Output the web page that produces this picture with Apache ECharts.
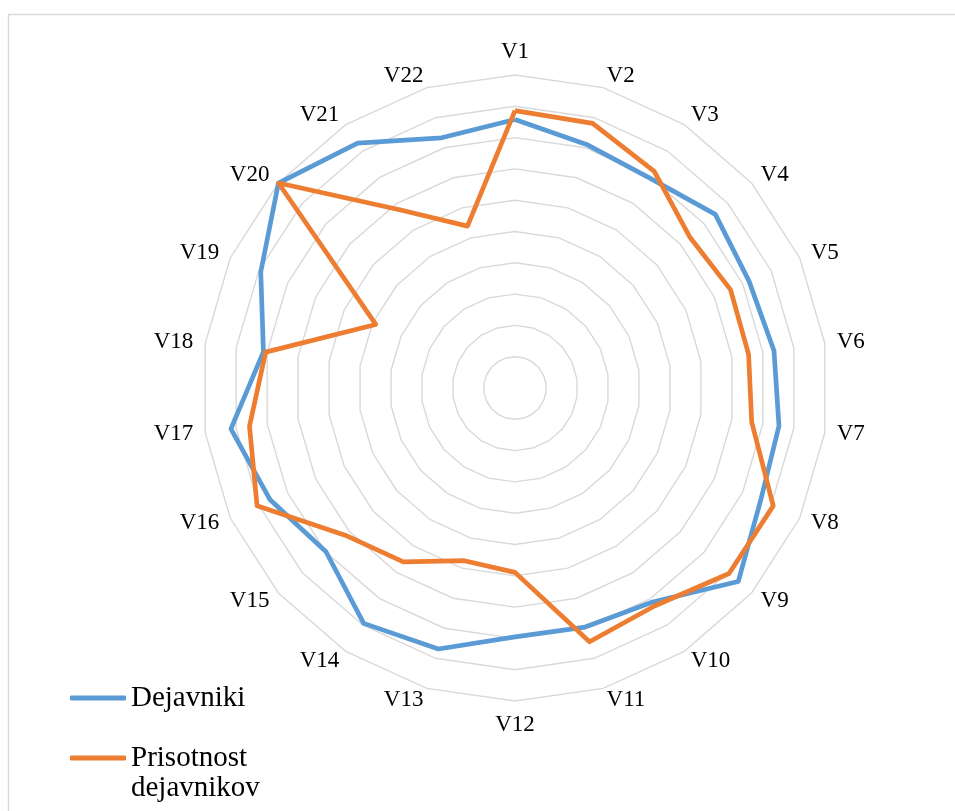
<!DOCTYPE html>
<html>
<head>
<meta charset="utf-8">
<script src="https://cdn.jsdelivr.net/npm/echarts@6/dist/echarts.min.js"></script>
<style>
html,body{margin:0;padding:0;background:#fff;}
#chart{width:955px;height:811px;}
</style>
</head>
<body>
<div id="chart"></div>
<script>
var categories = ['V1','V2','V3','V4','V5','V6','V7','V8','V9','V10','V11','V12','V13','V14','V15','V16','V17','V18','V19','V20','V21','V22'];
var dejavniki = [8.58, 8.11, 7.97, 8.47, 8.22, 8.36, 8.52, 8.63, 9.44, 8.13, 7.96, 7.95, 8.69, 8.94, 7.99, 8.60, 9.17, 8.12, 8.93, 10.0, 9.30, 8.33];
var prisotnost = [8.86, 8.81, 8.23, 7.38, 7.57, 7.54, 7.64, 9.07, 9.05, 8.27, 8.45, 5.89, 5.75, 6.60, 7.18, 9.06, 8.57, 8.05, 4.89, 10.0, 6.76, 5.39];
var seriesNames = ['Dejavniki', 'Prisotnost dejavnikov'];
var scaleMax = 10;

// ECharts radar runs counter-clockwise; reorder so categories go clockwise
var order = [0];
for (var i = categories.length - 1; i >= 1; i--) order.push(i);
function reorder(arr) { return order.map(function (k) { return arr[k]; }); }

var chart = echarts.init(document.getElementById('chart'), null, {renderer: 'canvas'});
var font = '"Liberation Serif", "Times New Roman", serif';
chart.setOption({
  animation: false,
  backgroundColor: '#ffffff',
  graphic: [{
    type: 'rect',
    shape: {x: 8.5, y: 14.5, width: 980, height: 830},
    style: {fill: 'none', stroke: '#d9d9d9', lineWidth: 1.5},
    silent: true
  }],
  legend: [{
    data: [seriesNames[0]],
    orient: 'vertical',
    left: 70, top: 683, padding: 0,
    icon: 'roundRect',
    itemWidth: 56, itemHeight: 5,
    textStyle: {fontFamily: font, fontSize: 29, color: '#000', lineHeight: 30}
  }, {
    data: [seriesNames[1]],
    orient: 'vertical',
    left: 70, top: 713, padding: 0,
    icon: 'roundRect',
    itemWidth: 56, itemHeight: 5,
    formatter: function (n) { return '\n' + n.replace(' ', '\n'); },
    textStyle: {fontFamily: font, fontSize: 29, color: '#000', lineHeight: 30}
  }],
  radar: {
    center: [515, 388],
    radius: 313,
    shape: 'polygon',
    splitNumber: 10,
    startAngle: 90,
    indicator: reorder(categories).map(function (c) { return {name: c, min: 0, max: scaleMax}; }),
    nameGap: 12,
    axisName: {color: '#000', fontFamily: font, fontSize: 23},
    axisLine: {show: false},
    axisTick: {show: false},
    axisLabel: {show: false},
    splitArea: {show: false},
    splitLine: {lineStyle: {color: '#d9d9d9', width: 1.4}}
  },
  series: [{
    type: 'radar',
    symbol: 'none',
    data: [{
      name: seriesNames[0],
      value: reorder(dejavniki),
      lineStyle: {color: '#5B9BD5', width: 4.7},
      itemStyle: {color: '#5B9BD5'}
    }, {
      name: seriesNames[1],
      value: reorder(prisotnost),
      lineStyle: {color: '#ED7D31', width: 4.7},
      itemStyle: {color: '#ED7D31'}
    }]
  }]
});
</script>
</body>
</html>
